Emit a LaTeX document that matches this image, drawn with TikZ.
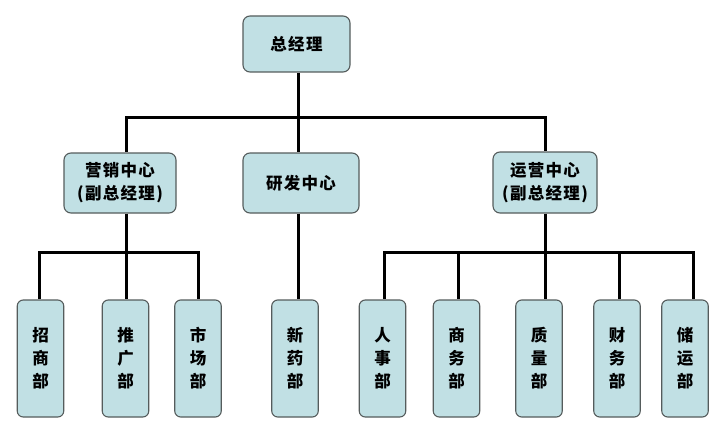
\documentclass[tikz,border=0pt]{standalone}
\usepackage{fontspec}
\newfontfamily\cjk[LetterSpace=8]{Noto Sans CJK SC}
\definecolor{boxfill}{RGB}{193,224,228}
\definecolor{boxline}{RGB}{85,92,92}
\tikzset{
  box/.style={draw=boxline, fill=boxfill, rounded corners=7pt, line width=1.1pt,
    font=\cjk\bfseries\fontsize{16.5}{23}\selectfont, align=center, inner sep=0pt},
  dept/.style={box, minimum width=46.5pt, minimum height=117pt, rounded corners=6pt},
  conn/.style={draw=black, line width=3pt}
}
\begin{document}
\begin{tikzpicture}[x=1pt,y=-1pt]
\useasboundingbox (0,0) rectangle (727,433);
% nodes
\node[box, minimum width=107pt, minimum height=56pt] (top) at (296.5,44) {总经理};
\node[box, minimum width=112pt, minimum height=60pt] (m1) at (120,183) {营销中心\\(副总经理)};
\node[box, minimum width=116pt, minimum height=60pt] (m2) at (301,183) {研发中心};
\node[box, minimum width=104pt, minimum height=61pt] (m3) at (545,182.5) {运营中心\\(副总经理)};
\node[dept] (d1) at (40.5,358.5) {招\\商\\部};
\node[dept] (d2) at (125.5,358.5) {推\\广\\部};
\node[dept] (d3) at (198,358.5) {市\\场\\部};
\node[dept] (d4) at (295,358.5) {新\\药\\部};
\node[dept] (d5) at (382.5,358.5) {人\\事\\部};
\node[dept] (d6) at (456.5,358.5) {商\\务\\部};
\node[dept] (d7) at (539,358.5) {质\\量\\部};
\node[dept] (d8) at (617,358.5) {财\\务\\部};
\node[dept] (d9) at (685,358.5) {储\\运\\部};
% bus coordinates
\coordinate (bA) at (126,117);
\coordinate (bB) at (298,117);
\coordinate (bC) at (545,117);
\coordinate (l1) at (39,252);
\coordinate (l2) at (126,252);
\coordinate (l3) at (198,252);
\coordinate (r1) at (384,252);
\coordinate (r2) at (458,252);
\coordinate (r3) at (545,252);
\coordinate (r4) at (619,252);
\coordinate (r5) at (693,252);
% top level
\draw[conn] (top.south -| bB) -- (bB);
\draw[conn, line cap=rect] (bA) -- (bC);
\draw[conn] (bA) -- (bA |- m1.north);
\draw[conn] (bB) -- (bB |- m2.north);
\draw[conn] (bC) -- (bC |- m3.north);
% left group
\draw[conn] (m1.south -| l2) -- (l2);
\draw[conn, line cap=rect] (l1) -- (l3);
\draw[conn] (l1) -- (l1 |- d1.north);
\draw[conn] (l2) -- (l2 |- d2.north);
\draw[conn] (l3) -- (l3 |- d3.north);
% middle
\draw[conn] (m2.south -| bB) -- (bB |- d4.north);
% right group
\draw[conn] (m3.south -| r3) -- (r3);
\draw[conn, line cap=rect] (r1) -- (r5);
\draw[conn] (r1) -- (r1 |- d5.north);
\draw[conn] (r2) -- (r2 |- d6.north);
\draw[conn] (r3) -- (r3 |- d7.north);
\draw[conn] (r4) -- (r4 |- d8.north);
\draw[conn] (r5) -- (r5 |- d9.north);
\end{tikzpicture}
\end{document}
